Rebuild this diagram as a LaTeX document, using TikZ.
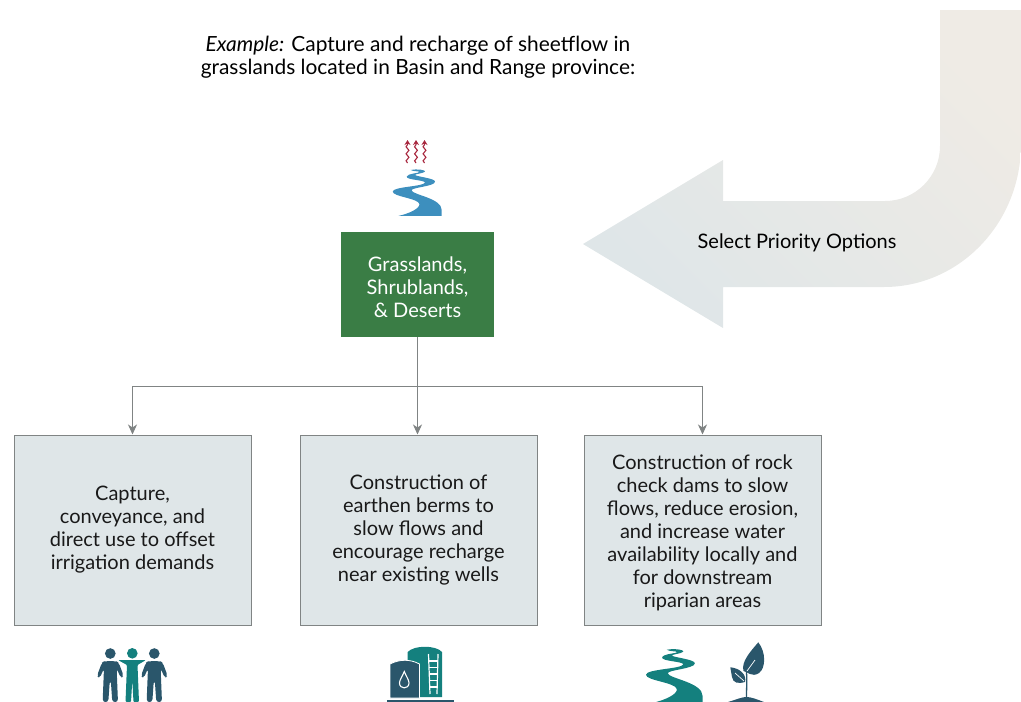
\documentclass[tikz,border=0pt]{standalone}
\usepackage{fontspec}
\setmainfont{Lato}
\usetikzlibrary{
    arrows.meta,             % For the connector tips
    decorations.pathmorphing % For the wavy heat lines
}
\definecolor{boxgray}{HTML}{DFE6E8}
\definecolor{sandgray}{HTML}{EFEBE5}
\definecolor{linegray}{HTML}{808484}
\definecolor{grassgreen}{HTML}{3A7D45}
\definecolor{riverblue}{HTML}{3D8FBE}
\definecolor{heatred}{HTML}{A8283F}
\definecolor{iconteal}{HTML}{14807E}
\definecolor{icondark}{HTML}{2A566B}
\newcommand{\textdrop}{\\[-2pt]} % Moves a box text down a little

\begin{document}
\begin{tikzpicture}[
    x=1pt, y=-1pt,
    font=\fontsize{20}{23}\selectfont,
    arrow/.style={-{Stealth[length=10pt,width=9pt,inset=3pt]}, line width=1.1pt, draw=linegray},
    optionbox/.style={
        draw=linegray,
        fill=boxgray,
        line width=1pt,
        align=center,
        minimum width=237pt,
        minimum height=190pt,
        inner sep=0pt,
        text=black!90
    },
    heat/.style={
        draw=heatred,
        line width=1.1pt,
        decorate,
        decoration={snake, amplitude=1.4pt, segment length=7pt, post length=4pt},
        -{Stealth[length=5pt,width=6pt]}
    },
    pics/river/.style={code={
        \path[pic actions] (54,2) .. controls (72,-2) and (100,2) .. (97,7)
            .. controls (92,12) and (67,14) .. (67,17)
            .. controls (72,22) and (127,27) .. (127,37)
            .. controls (127,52) and (52,54) .. (57,64)
            .. controls (62,77) and (147,87) .. (147,122)
            -- (147,140) -- (17,140)
            .. controls (52,132) and (82,117) .. (80,104)
            .. controls (77,87) and (0,82) .. (0,67)
            .. controls (0,52) and (92,52) .. (97,40)
            .. controls (97,32) and (40,32) .. (42,22)
            .. controls (44,12) and (80,12) .. (80,8)
            .. controls (80,5) and (62,7) .. (54,2) -- cycle;
    }},
    pics/person/.style={code={
        \path[pic actions] (0,-21) circle[radius=16];
        \path[pic actions, rounded corners=3pt] (-17,2) -- (17,2) -- (25,6) -- (40,46) -- (32,53)
            -- (19,24) -- (23,125) -- (6,125) -- (1.5,60) -- (-1.5,60) -- (-6,125) -- (-23,125)
            -- (-19,24) -- (-32,53) -- (-40,46) -- (-25,6) -- cycle;
    }}
]
    \useasboundingbox (0,0) rectangle (1021,702);

    % --- Select Priority Options arrow ---
    \shade[left color=boxgray, right color=sandgray, shading angle=135]
        (940,10) -- (1021,10) -- (1021,144)
        arc[start angle=0, end angle=90, x radius=137, y radius=143]
        -- (723,287) -- (723,328) -- (583,244) -- (723,160) -- (723,201) -- (885,201)
        arc[start angle=90, end angle=0, radius=55] -- cycle;
    \node (select) at (797,243) {Select Priority Options};

    % --- Title text ---
    \node[align=center, font=\fontsize{20.9}{23}\selectfont] (example) at (418,57.5) {\textit{Example:} Capture and recharge of sheetflow in\\grasslands located in Basin and Range province:};

    % --- Category and option boxes ---
    \node[fill=grassgreen, text=white, align=center, minimum width=153pt, minimum height=105pt, inner sep=0pt] (grass) at (417.5,284.5) {\textdrop Grasslands,\\Shrublands,\\\& Deserts};
    \node[optionbox] (capture) at (132.5,530) {Capture,\\conveyance, and\\direct use to offset\\irrigation demands};
    \node[optionbox] (berms) at (418.5,530) {Construction of\\earthen berms to\\slow flows and\\encourage recharge\\near existing wells};
    \node[optionbox] (dams) at (702.5,530) {\textdrop Construction of rock\\check dams to slow\\flows, reduce erosion,\\and increase water\\availability locally and\\for downstream\\riparian areas};

    % --- Connectors ---
    \coordinate (bus) at (417.5,386.5);
    \draw[arrow] (grass.south) -- (grass.south |- berms.north);
    \draw[arrow] (bus) -| (capture.north);
    \draw[arrow] (bus) -| (dams.north);

    % --- Top icon ---
    \foreach \x in {407.5,416,424.5} {
        \draw[heat] (\x,163) -- (\x,140);
    }
    \pic[fill=riverblue, scale=0.3333] (topriver) at (392.7,169.3) {river};

    % --- People icon ---
    \fill[iconteal] (132.3,653.3) circle[radius=5.3];
    \fill[iconteal, rounded corners=1pt] (118,660) -- (146,660) -- (137.5,665) -- (139,702) -- (133.5,702) -- (132.3,680) -- (131,702) -- (125.5,702) -- (127,665) -- cycle;
    \pic[fill=icondark, scale=0.3333] (leftperson) at (110.3,660.5) {person};
    \pic[fill=icondark, scale=0.3333] (rightperson) at (154.3,660.5) {person};

    % --- Tank icon ---
    \fill[iconteal] (407.7,697) -- (407.7,652) .. controls (414,645) and (436,645) .. (442,652) -- (442,697) -- cycle;
    \draw[white, line width=1.2pt] (428.5,654) -- (430,694) (438,654) -- (437,694);
    \foreach \y in {661,667.5,674,680.5,687} {
        \draw[white, line width=1.2pt] (429,\y) -- (437.5,\y);
    }
    \fill[icondark, draw=white, line width=0.8pt] (390,698) -- (390,664) .. controls (400,659) and (410,659) .. (419.5,664) -- (419.5,698) -- cycle;
    \draw[white, line width=1.1pt] (404.3,671.5) .. controls (402,677) and (399.5,680) .. (399.5,683)
        .. controls (399.5,689.5) and (409,689.5) .. (409,683) .. controls (409,680) and (406.5,677) .. (404.3,671.5) -- cycle;
    \fill[icondark] (387,699.5) rectangle (454,702);

    % --- River and seedling icon ---
    \pic[fill=iconteal, scale=0.385] (lowriver) at (646,649) {river};
    \fill[icondark] (758.3,642.3) .. controls (766,652) and (766,668) .. (759,673)
        .. controls (752,678) and (746,671) .. (743.5,671) .. controls (741,662) and (750,652) .. (758.3,642.3) -- cycle;
    \fill[icondark] (730.3,667.3) .. controls (740,668) and (747,675) .. (745,682)
        .. controls (738,684) and (733,683) .. (732,677) -- cycle;
    \draw[white, line width=0.7pt] (747,671) -- (755,660) (735,673) -- (744,681);
    \draw[icondark, line width=1.3pt] (746.5,672) .. controls (747,680) and (746.5,690) .. (746.5,698);
    \fill[icondark] (728,702) .. controls (738,699) and (742,697) .. (746.5,697) .. controls (751,697) and (756,699) .. (764,702) -- cycle;
\end{tikzpicture}
\end{document}
